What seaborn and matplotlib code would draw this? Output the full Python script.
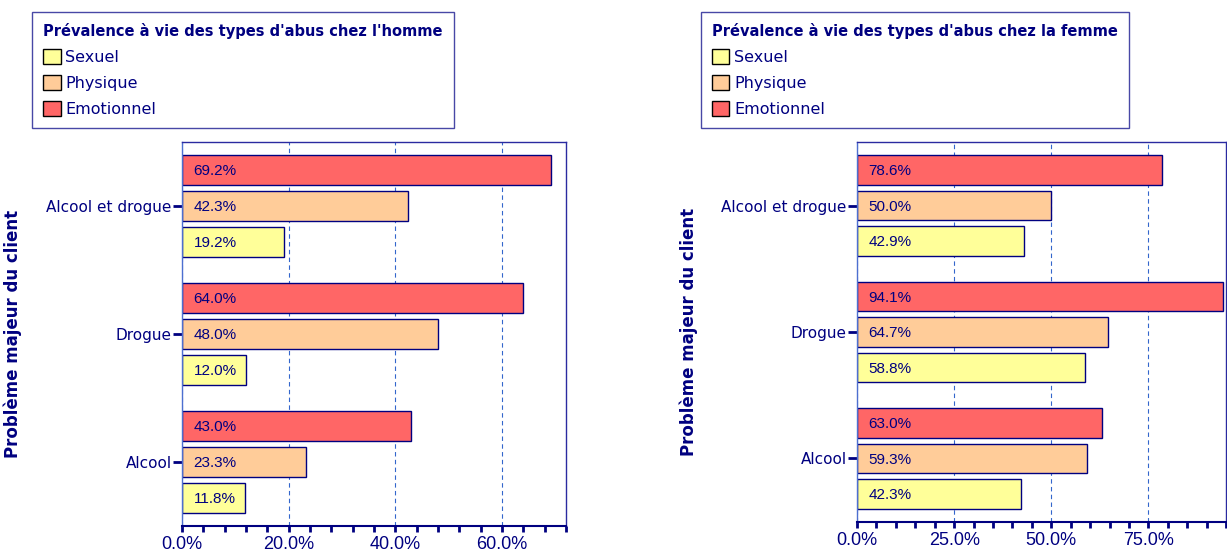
import pandas as pd
import numpy as np
import matplotlib.pyplot as plt
import seaborn as sns
from matplotlib.patches import Patch
from matplotlib.ticker import FuncFormatter, MultipleLocator

# Données
problemes = ['Alcool et drogue', 'Drogue', 'Alcool']
types_abus = ['Emotionnel', 'Physique', 'Sexuel']
homme_emotionnel = [69.2, 64.0, 43.0]
homme_physique = [42.3, 48.0, 23.3]
homme_sexuel = [19.2, 12.0, 11.8]
femme_emotionnel = [78.6, 94.1, 63.0]
femme_physique = [50.0, 64.7, 59.3]
femme_sexuel = [42.9, 58.8, 42.3]

couleurs = {'Emotionnel': '#FF6666', 'Physique': '#FFCC99', 'Sexuel': '#FFFF99'}
navy = '#000080'


def to_long(emo, phys, sex):
    rows = []
    for i, p in enumerate(problemes):
        rows.append((p, 'Emotionnel', emo[i]))
        rows.append((p, 'Physique', phys[i]))
        rows.append((p, 'Sexuel', sex[i]))
    return pd.DataFrame(rows, columns=['Probleme', 'Type', 'Valeur'])


df_h = to_long(homme_emotionnel, homme_physique, homme_sexuel)
df_f = to_long(femme_emotionnel, femme_physique, femme_sexuel)

sns.set_style('white')
plt.rcParams['font.family'] = ['DejaVu Sans']
narrow = ['Liberation Sans', 'DejaVu Sans']

fig = plt.figure(figsize=(12.27, 5.57), dpi=100)
ax_h = fig.add_axes([0.1483, 0.0562, 0.313, 0.6894])
ax_f = fig.add_axes([0.6985, 0.0634, 0.3007, 0.6811])

configs = [
    (ax_h, df_h, 72, 20, 4, "Prévalence à vie des types d'abus chez l'homme", (0.026, 0.979)),
    (ax_f, df_f, 95, 25, 5, "Prévalence à vie des types d'abus chez la femme", (0.571, 0.979)),
]

for ax, df, xmax, major, minor, titre, anchor in configs:
    sns.barplot(data=df, y='Probleme', x='Valeur', hue='Type', order=problemes,
                hue_order=types_abus, palette=couleurs, orient='h', width=0.844,
                gap=0.167, edgecolor=navy, linewidth=1, legend=False, ax=ax,
                errorbar=None, saturation=1)
    for cont in ax.containers:
        for bar in cont:
            w = bar.get_width()
            ax.text(bar.get_x() + xmax * 0.03, bar.get_y() + bar.get_height() / 2 + 0.01,
                    f'{w:.1f}%', va='center', ha='left', color=navy, fontsize=11,
                    family=narrow)
    ax.set_xlim(0, xmax)
    ax.set_ylim(2.5, -0.5)
    ax.xaxis.set_major_locator(MultipleLocator(major))
    ax.xaxis.set_minor_locator(MultipleLocator(minor))
    ax.xaxis.set_major_formatter(FuncFormatter(lambda v, p: f'{v:.1f}%'))
    ax.set_axisbelow(True)
    ax.grid(axis='x', which='major', color='#3366CC', linestyle=(0, (4, 3)), linewidth=0.8)
    ax.grid(axis='y', visible=False)
    ax.tick_params(axis='x', which='both', direction='out', length=4, width=2,
                   color=navy, labelcolor=navy, labelsize=13, bottom=True)
    for lab in ax.get_xticklabels():
        lab.set_family(narrow)
    ax.tick_params(axis='y', direction='out', length=6.5, width=2, color=navy,
                   labelcolor=navy, labelsize=11, left=True, pad=1)
    for sp in ax.spines.values():
        sp.set_visible(True)
        sp.set_color('#2A2AA0')
        sp.set_linewidth(1)
    ax.spines['left'].set_color('#4D6FD0')
    ax.spines['bottom'].set_color(navy)
    ax.spines['bottom'].set_linewidth(1.5)
    ax.set_xlabel('')
    ax.set_ylabel('Problème majeur du client', color=navy, fontsize=12, fontweight='bold')

    handles = [Patch(facecolor=couleurs[t], edgecolor='black', linewidth=1)
               for t in ['Sexuel', 'Physique', 'Emotionnel']]
    leg = ax.legend(handles, ['Sexuel', 'Physique', 'Emotionnel'], title=titre,
                    loc='upper left', bbox_to_anchor=anchor, bbox_transform=fig.transFigure,
                    frameon=True, fancybox=False, fontsize=11.5,
                    title_fontproperties={'weight': 'bold', 'size': 10.5},
                    handlelength=1.1, handleheight=1.1, handletextpad=0.3,
                    labelspacing=0.62, borderpad=0.7, borderaxespad=0)
    leg._legend_box.align = 'left'
    leg.get_title().set_color(navy)
    for t in leg.get_texts():
        t.set_color(navy)
    leg.get_frame().set_edgecolor('#1A1A90')
    leg.get_frame().set_linewidth(1)

ax_h.yaxis.set_label_coords(-0.417, 0.5)
ax_f.yaxis.set_label_coords(-0.431, 0.5)

fig.savefig('out.png', dpi=100)
